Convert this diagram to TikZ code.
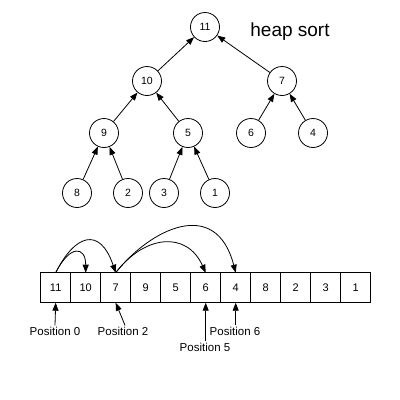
\documentclass[tikz,border=0pt]{standalone}
\usepackage{fontspec}
\setmainfont{Liberation Sans}
\usetikzlibrary{arrows.meta}
\begin{document}
\begin{tikzpicture}[x=1pt, y=-1pt, line width=.8pt,
	vertex/.style={draw, circle, minimum size=29pt, inner sep=0pt, font=\fontsize{10.5}{12}\selectfont},
	cell/.style={draw, minimum size=30pt, inner sep=0pt, outer sep=0pt, font=\fontsize{11}{13}\selectfont},
	poslabel/.style={inner sep=1pt, font=\fontsize{11.5}{13}\selectfont},
	arr/.style={-{Triangle[length=8pt, width=6pt]}}]
	\useasboundingbox (0,0) rectangle (400,400);
	% tree
	\node[vertex] (n11) at (205,27)  {11};
	\node[vertex] (n10) at (147,81)  {10};
	\node[vertex] (n7)  at (282,81)  {7};
	\node[vertex] (n9)  at (104,133) {9};
	\node[vertex] (n5)  at (188,133) {5};
	\node[vertex] (n6)  at (251,133) {6};
	\node[vertex] (n4)  at (313,133) {4};
	\node[vertex] (n8)  at (77,193)  {8};
	\node[vertex] (n2)  at (128,193) {2};
	\node[vertex] (n3)  at (164,193) {3};
	\node[vertex] (n1)  at (215,193) {1};
	\node[font=\fontsize{19}{22}\selectfont] (title) at (290,32) {heap sort};
	\draw[arr] (n10) -- (n11);
	\draw[arr] (n7)  -- (n11);
	\draw[arr] (n9)  -- (n10);
	\draw[arr] (n5)  -- (n10);
	\draw[arr] (n6)  -- (n7);
	\draw[arr] (n4)  -- (n7);
	\draw[arr] (n8)  -- (n9);
	\draw[arr] (n2)  -- (n9);
	\draw[arr] (n3)  -- (n5);
	\draw[arr] (n1)  -- (n5);
	% array
	\node[cell] (c0)  at (55.7,287.7)  {11};
	\node[cell] (c1)  at (85.7,287.7)  {10};
	\node[cell] (c2)  at (115.7,287.7) {7};
	\node[cell] (c3)  at (145.7,287.7) {9};
	\node[cell] (c4)  at (175.7,287.7) {5};
	\node[cell] (c5)  at (205.7,287.7) {6};
	\node[cell] (c6)  at (235.7,287.7) {4};
	\node[cell] (c7)  at (265.7,287.7) {8};
	\node[cell] (c8)  at (295.7,287.7) {2};
	\node[cell] (c9)  at (325.7,287.7) {3};
	\node[cell] (c10) at (355.7,287.7) {1};
	%children
	\draw[arr] (c0.north) .. controls +(14,-28) and +(0,-27) .. (c1.north);
	\draw[arr] (c0.north) .. controls +(19,-38) and +(-16,-47) .. (c2.north);
	\draw[arr] (c2.north) .. controls +(29,-38) and +(-19,-42) .. (c5.north);
	\draw[arr] (c2.north) .. controls +(34,-43) and +(-20,-77) .. (c6.north);
	% positions
	\node[poslabel] (p0) at (55,331)  {Position 0};
	\node[poslabel] (p2) at (123,331) {Position 2};
	\node[poslabel] (p5) at (205,347) {Position 5};
	\node[poslabel] (p6) at (235,331) {Position 6};
	\draw[arr] (p0.north) -- (c0.south);
	\draw[arr] ([xshift=2pt]p2.north) -- (c2.south);
	\draw[arr] ([xshift=.7pt]p5.north) -- (c5.south);
	\draw[arr] ([xshift=.7pt]p6.north) -- (c6.south);
\end{tikzpicture}
\end{document}
